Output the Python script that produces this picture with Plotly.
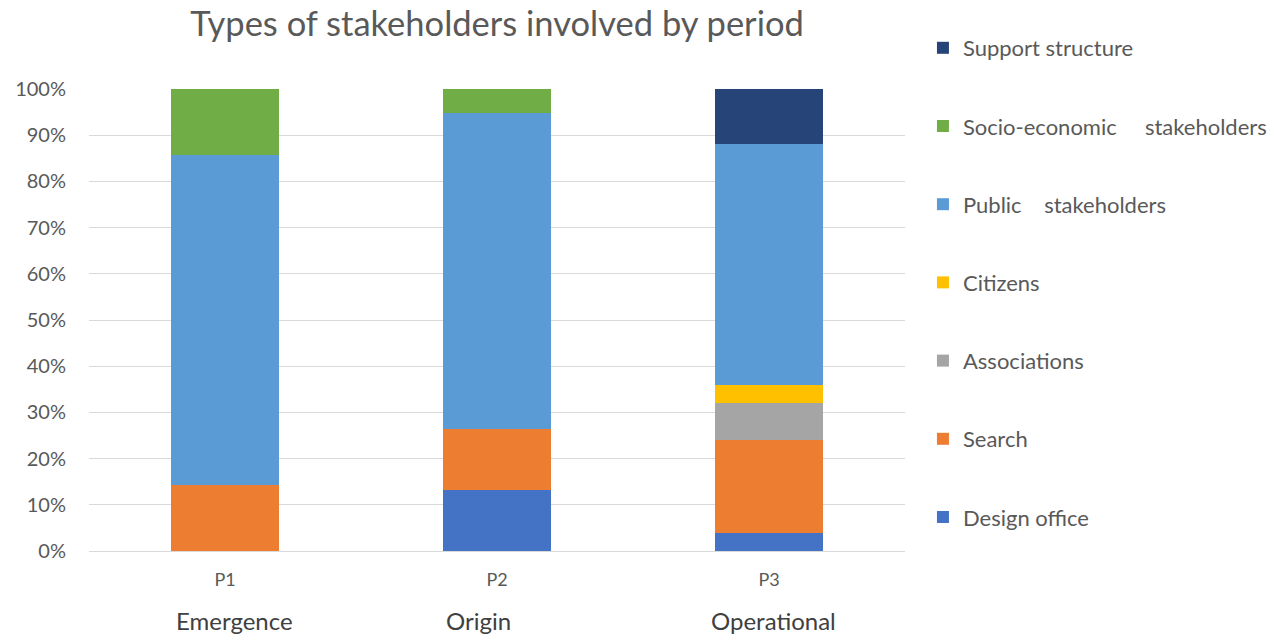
import plotly.graph_objects as go

periods = ["P1", "P2", "P3"]
period_names = ["Emergence", "Origin", "Operational"]
y_ticks = [0, 10, 20, 30, 40, 50, 60, 70, 80, 90, 100]
y_tick_labels = [f"{v}%" for v in y_ticks]

series_names = [
    "Design office",
    "Search",
    "Associations",
    "Citizens",
    "Public\u00a0\u00a0\u00a0\u00a0stakeholders",
    "Socio-economic\u00a0\u00a0\u00a0\u00a0\u00a0stakeholders",
    "Support structure",
]
design_office = [0, 13.16, 4]
search = [14.29, 13.16, 20]
associations = [0, 0, 8]
citizens = [0, 0, 4]
public = [71.42, 68.42, 52]
socio_economic = [14.29, 5.26, 0]
support_structure = [0, 0, 12]

series_values = [design_office, search, associations, citizens, public,
                 socio_economic, support_structure]
colors = ["#4472C4", "#ED7D31", "#A5A5A5", "#FFC000", "#5B9BD5", "#70AD47", "#264478"]

FONT = "Lato"

fig = go.Figure()
n = len(series_names)
for i, (name, vals, col) in enumerate(zip(series_names, series_values, colors)):
    fig.add_trace(go.Bar(
        x=periods, y=vals, name=name, legendgroup=f"g{i}", legendrank=n - i,
        marker=dict(color=col, line=dict(width=0)),
    ))

# the period names in the reference sit slightly off the bar centres
name_shifts = [9, -19, 4]
for p, nm, dx in zip(periods, period_names, name_shifts):
    fig.add_annotation(x=p, y=-0.1515, xref="x", yref="paper", text=nm,
                       showarrow=False, yanchor="middle", xshift=dx,
                       font=dict(family=FONT, size=24, color="#404040"))

fig.update_layout(
    width=1273, height=636,
    barmode="stack", bargap=0.6,
    plot_bgcolor="white", paper_bgcolor="white",
    margin=dict(l=89, r=368, t=89, b=85, autoexpand=False),
    title=dict(text="Types of stakeholders involved by period", x=0.5, xref="paper",
               xanchor="center", y=1 - 24 / 636, yanchor="middle",
               font=dict(family=FONT, size=34.5, color="#595959")),
    font=dict(family=FONT, color="#595959"),
    legend=dict(x=1.022, xanchor="left", y=1 - 27 / 636, yref="container",
                yanchor="top", maxheight=630,
                traceorder="grouped", tracegroupgap=46.6,
                font=dict(family=FONT, size=22, color="#595959"),
                bgcolor="rgba(0,0,0,0)"),
    xaxis=dict(tickfont=dict(family=FONT, size=18, color="#595959"),
               showline=True, linecolor="#d9d9d9", linewidth=1,
               ticks="", showgrid=False, ticklabelstandoff=12),
    yaxis=dict(range=[0, 100], tickmode="array", tickvals=y_ticks,
               ticktext=y_tick_labels,
               tickfont=dict(family=FONT, size=20, color="#595959"),
               showgrid=True, gridcolor="#d9d9d9", gridwidth=1,
               zeroline=False, ticks="", ticklabelstandoff=22),
)

fig.write_html("out.html", config={"responsive": False, "displayModeBar": False},
               include_plotlyjs=True, full_html=True,
               default_width="100%", default_height="100%")

# remove body margin so the 1273x636 figure fits the window exactly
with open("out.html", encoding="utf-8") as f:
    html = f.read()
html = html.replace("<head>", "<head><style>html,body{margin:0;padding:0;overflow:hidden;}</style>", 1)
with open("out.html", "w", encoding="utf-8") as f:
    f.write(html)
